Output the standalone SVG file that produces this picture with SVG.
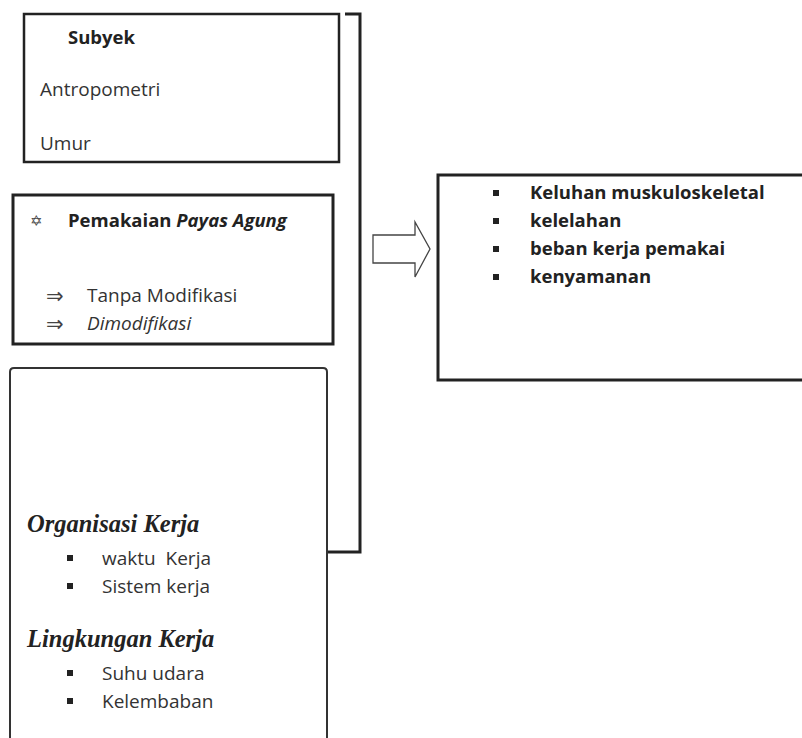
<svg xmlns="http://www.w3.org/2000/svg" width="802" height="738" viewBox="0 0 802 738">
<style>
.box{fill:#fff;stroke:#222;}
.t{font-family:"Open Sans","Liberation Sans",sans-serif;font-size:19px;fill:#333;white-space:pre;}
.b{font-weight:bold;fill:#222;font-size:18.5px;}
.s{font-family:"Liberation Serif",serif;font-size:24.5px;font-weight:bold;font-style:italic;fill:#222;}
.bul{fill:#222;}
.sym{font-family:"DejaVu Sans",sans-serif;fill:#444;}
.conn{fill:none;stroke:#222;stroke-width:3;}
</style>
<rect width="802" height="738" fill="#fff"/>
<g id="connectors">
<polyline class="conn" points="345,14 360,14 360,552 327,552"/>
<path d="M373,235 H415 V222 L430,249 L415,277 V263 H373 Z" fill="#fff" stroke="#444" stroke-width="1.3"/>
</g>
<g id="subyek">
<rect class="box" x="24" y="14" width="315" height="148" stroke-width="2.5"/>
<text class="t b" x="68" y="44">Subyek</text>
<text class="t" x="40" y="96">Antropometri</text>
<text class="t" x="40" y="150">Umur</text>
</g>
<g id="pemakaian">
<rect class="box" x="13" y="195" width="320" height="149" stroke-width="3"/>
<text class="sym" x="30" y="226" font-size="15">✡</text>
<text class="t b" x="68" y="227">Pemakaian <tspan font-style="italic">Payas Agung</tspan></text>
<text class="sym" x="46" y="303" font-size="21">⇒</text>
<text class="t" x="87" y="302">Tanpa Modifikasi</text>
<text class="sym" x="46" y="331" font-size="21">⇒</text>
<text class="t" x="87" y="330" font-style="italic">Dimodifikasi</text>
</g>
<g id="organisasi">
<path d="M10,745 V372 Q10,368 14,368 H323 Q327,368 327,372 V745" fill="#fff" stroke="#333" stroke-width="2"/>
<text class="s" x="27" y="532">Organisasi Kerja</text>
<rect class="bul" x="67" y="555" width="6" height="6"/>
<text class="t" x="102" y="565">waktu  Kerja</text>
<rect class="bul" x="67" y="583" width="6" height="6"/>
<text class="t" x="102" y="593">Sistem kerja</text>
<text class="s" x="27" y="647">Lingkungan Kerja</text>
<rect class="bul" x="67" y="670" width="6" height="6"/>
<text class="t" x="102" y="680">Suhu udara</text>
<rect class="bul" x="67" y="698" width="6" height="6"/>
<text class="t" x="102" y="708">Kelembaban</text>
</g>
<g id="keluhan">
<rect class="box" x="438" y="175" width="370" height="205" stroke-width="3"/>
<rect class="bul" x="493" y="190" width="6" height="6"/>
<text class="t b" x="530" y="199">Keluhan muskuloskeletal</text>
<rect class="bul" x="493" y="218" width="6" height="6"/>
<text class="t b" x="530" y="227">kelelahan</text>
<rect class="bul" x="493" y="246" width="6" height="6"/>
<text class="t b" x="530" y="255">beban kerja pemakai</text>
<rect class="bul" x="493" y="274" width="6" height="6"/>
<text class="t b" x="530" y="283">kenyamanan</text>
</g>
</svg>
